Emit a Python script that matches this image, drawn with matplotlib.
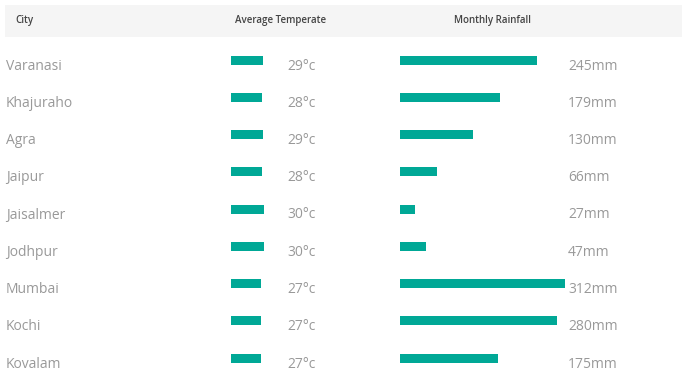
import matplotlib
matplotlib.use("Agg")
import matplotlib.pyplot as plt
from matplotlib.patches import Rectangle

cities = ["Varanasi", "Khajuraho", "Agra", "Jaipur", "Jaisalmer", "Jodhpur", "Mumbai", "Kochi", "Kovalam"]
temps = [29, 28, 29, 28, 30, 30, 27, 27, 27]
rainfall = [245, 179, 130, 66, 27, 47, 312, 280, 175]
headers = ["City", "Average Temperate", "Monthly Rainfall"]

W, H = 688, 386
fig = plt.figure(figsize=(W / 100, H / 100), dpi=100)
plt.rcParams['font.family'] = ['Open Sans', 'DejaVu Sans']

def fx(px):
    return px / W

def fy(py):
    return 1 - py / H

# header band
fig.patches.append(Rectangle((fx(5), fy(37)), fx(682) - fx(5), fy(5) - fy(37),
                             transform=fig.transFigure, facecolor="#f5f5f5", edgecolor="none", zorder=0))
hdr_kw = dict(fontsize=7, fontweight="semibold", color="#444444", va="center")
fig.text(fx(15), fy(21), headers[0], ha="left", **hdr_kw)
fig.text(fx(281), fy(21), headers[1], ha="center", **hdr_kw)
fig.text(fx(492), fy(21), headers[2], ha="center", **hdr_kw)

row0, step = 60.0, 37.25
top_px = row0 - step / 2
bot_px = row0 + step * (len(cities) - 0.5)

teal = "#00a896"
bar_h = 9 / step

# temperature axis: x from 231 px, 1.11 px per degree
ax_t = fig.add_axes([fx(231), fy(bot_px), fx(40), fy(top_px) - fy(bot_px)])
ax_t.set_xlim(0, 40 / 1.11)
ax_t.set_ylim(len(cities) - 0.5, -0.5)
ax_t.barh(range(len(cities)), temps, height=bar_h, color=teal)
ax_t.axis("off")

# rainfall axis: x from 400 px to 565 px, 0.56 px per mm (bars clipped)
ax_r = fig.add_axes([fx(400), fy(bot_px), fx(165), fy(top_px) - fy(bot_px)])
ax_r.set_xlim(0, 165 / 0.56)
ax_r.set_ylim(len(cities) - 0.5, -0.5)
ax_r.barh(range(len(cities)), rainfall, height=bar_h, color=teal)
ax_r.axis("off")

txt_kw = dict(fontsize=10, color="#999999", va="baseline")
for i, (c, t, r) in enumerate(zip(cities, temps, rainfall)):
    base = row0 + step * i + 9.5
    fig.text(fx(6), fy(base), c, ha="left", **txt_kw)
    fig.text(fx(287), fy(base), f"{t}°c", ha="left", **txt_kw)
    fig.text(fx(568), fy(base), f"{r}mm", ha="left", **txt_kw)

fig.savefig("out.png", dpi=100, facecolor="white")
